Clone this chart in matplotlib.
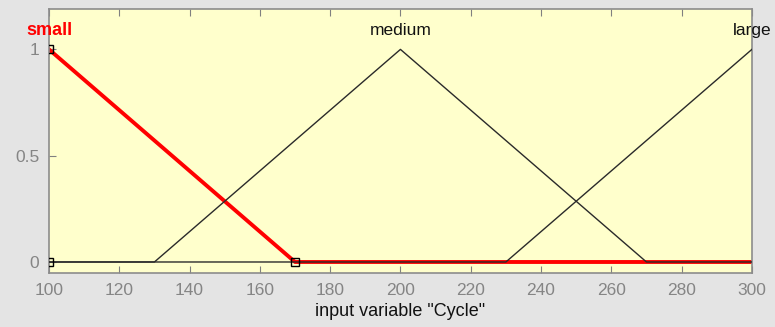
import matplotlib.pyplot as plt

# membership functions of input variable "Cycle"
small_x = [100, 170, 300]
small_y = [1, 0, 0]
medium_x = [100, 130, 200, 270, 300]
medium_y = [0, 0, 1, 0, 0]
large_x = [100, 230, 300]
large_y = [0, 0, 1]
small_pts_x = [100, 100, 170]
small_pts_y = [1, 0, 0]

mf_names = ['small', 'medium', 'large']
mf_peaks = [100, 200, 300]

plt.rcParams.update({'font.family': ['Liberation Sans', 'DejaVu Sans']})

fig = plt.figure(figsize=(7.75, 3.27), dpi=100, facecolor='#E4E4E4')
ax = fig.add_axes([0.0632, 0.165, 0.907, 0.8075])
ax.set_facecolor('#FFFFCC')

ax.plot(small_x, small_y, color='#FF0000', linewidth=2.8, zorder=2)
ax.plot(medium_x, medium_y, color='#2A2A2A', linewidth=1.0, zorder=3)
ax.plot(large_x, large_y, color='#2A2A2A', linewidth=1.0, zorder=3)
ax.plot(small_pts_x, small_pts_y, linestyle='none', marker='s', markersize=6,
        markerfacecolor='none', markeredgecolor='black', markeredgewidth=1.0, zorder=4)

for name, px in zip(mf_names, mf_peaks):
    if name == 'small':
        ax.text(px, 1.066, name, color='#FF0000', fontweight='bold', fontsize=13,
                ha='center', va='baseline', clip_on=False)
    else:
        ax.text(px, 1.066, name, color='#111111', fontsize=12.5,
                ha='center', va='baseline', clip_on=False)

ax.set_xlim(100, 300)
ax.set_ylim(-0.052, 1.19)
ax.set_xticks(range(100, 301, 20))
ax.set_yticks([0, 0.5, 1])
ax.set_yticklabels(['0', '0.5', '1'])
ax.tick_params(direction='in', top=True, right=False, length=5, color='#808080',
               labelcolor='#858585', labelsize=12.5, pad=7)
for s in ax.spines.values():
    s.set_color('#8C8C8C')
    s.set_linewidth(1.2)

ax.set_xlabel('input variable "Cycle"', fontsize=13, color='#111111', labelpad=4)

fig.savefig('out.png', dpi=100, facecolor=fig.get_facecolor())
